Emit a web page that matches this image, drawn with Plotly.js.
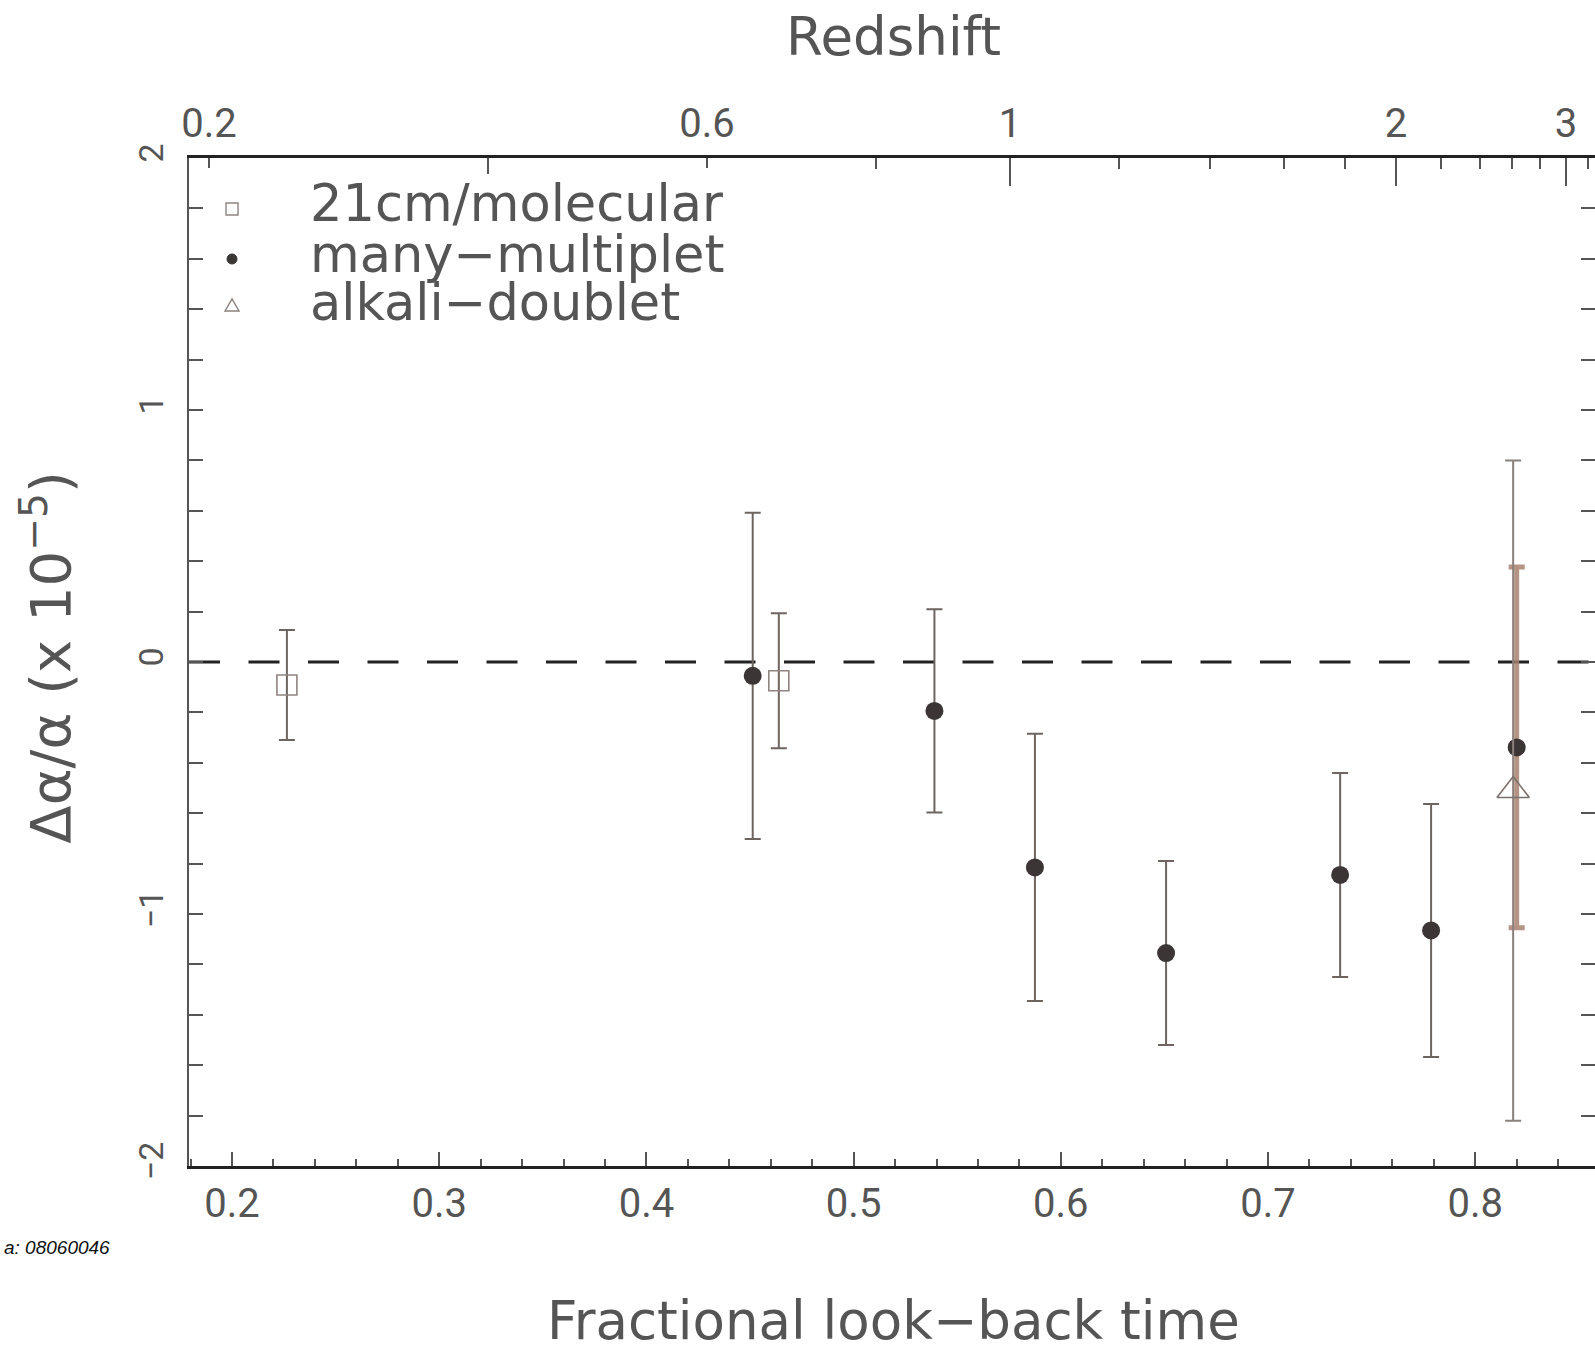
<!DOCTYPE html>
<html>
<head>
<meta charset="utf-8">
<script src="https://cdn.plot.ly/plotly-3.0.1.min.js"></script>
<style>
  html, body { margin: 0; padding: 0; background: #ffffff; }
  #chart { width: 1595px; height: 1352px; }
</style>
</head>
<body>
<div id="chart"></div>
<script>
// ---- data ----
// 21cm / molecular (open squares)
const lookback21cm = [0.2265, 0.4639];
const dAlpha21cm   = [-0.0915, -0.0745];
const err21cm      = [0.2185, 0.2675];

// many-multiplet (filled circles)
const lookbackMM = [0.4513, 0.5390, 0.5875, 0.6508, 0.7348, 0.7787, 0.8200];
const dAlphaMM   = [-0.055, -0.194, -0.815, -1.155, -0.845, -1.065, -0.339];
const errMM      = [0.647, 0.403, 0.530, 0.365, 0.405, 0.502, 0.716];

// alkali-doublet (open triangle)
const lookbackAD = [0.8183];
const dAlphaAD   = [-0.51];
const errAD      = [1.31];

// top axis: redshift ticks at their fractional look-back positions
const redshiftMajorLabels   = ['1', '2', '3'];
const redshiftMajorLookback = [0.5755, 0.7618, 0.8438];
const redshiftSmallLabels   = ['0.2', '0.6'];
const redshiftSmallLookback = [0.1889, 0.4292];
const redshiftMidLookback   = [0.3236];
const redshiftMinorLookback = [0.5108, 0.628, 0.672, 0.7077, 0.737, 0.7835, 0.8023, 0.8178, 0.8313, 0.8544];

// legend entries
const legendNames = ['21cm/molecular', 'many\u2212multiplet', 'alkali\u2212doublet'];

// ---- styling ----
const xRange = [0.17925, 0.8578];
const textColor = '#555555';
const barColor = '#6e6460';
const tickFont = {family: 'Roboto, DejaVu Sans, sans-serif', size: 40, color: textColor};
const labelFamily = 'DejaVu Sans, sans-serif';

const nMM = lookbackMM.length;

const traces = [
  {
    x: lookback21cm, y: dAlpha21cm, type: 'scatter', mode: 'markers', name: legendNames[0],
    marker: {symbol: 'square-open', size: 20, color: '#8f8480', line: {width: 1.6, color: '#8f8480'}},
    error_y: {type: 'data', array: err21cm, visible: true, color: barColor, thickness: 2, width: 8},
    showlegend: false, hoverinfo: 'x+y'
  },
  {
    x: lookbackMM.slice(0, nMM - 1), y: dAlphaMM.slice(0, nMM - 1), type: 'scatter', mode: 'markers', name: legendNames[1],
    marker: {symbol: 'circle', size: 18, color: '#3b3535'},
    error_y: {type: 'data', array: errMM.slice(0, nMM - 1), visible: true, color: barColor, thickness: 2, width: 8},
    showlegend: false, hoverinfo: 'x+y'
  },
  {
    x: lookbackMM.slice(nMM - 1), y: dAlphaMM.slice(nMM - 1), type: 'scatter', mode: 'markers', name: legendNames[1],
    marker: {symbol: 'circle', size: 18, color: '#3b3535'},
    error_y: {type: 'data', array: errMM.slice(nMM - 1), visible: true, color: 'rgba(168,128,112,0.85)', thickness: 5, width: 8},
    showlegend: false, hoverinfo: 'x+y'
  },
  {
    x: lookbackAD, y: dAlphaAD, type: 'scatter', mode: 'markers', name: legendNames[2],
    marker: {symbol: 'triangle-up-open', size: 28, color: '#7a706c', line: {width: 1.6, color: '#7a706c'}},
    error_y: {type: 'data', array: errAD, visible: true, color: '#8a807c', thickness: 2, width: 8},
    showlegend: false, hoverinfo: 'x+y'
  },
  // empty traces so that the top axes get their own subplots
  {x: [], y: [], type: 'scatter', mode: 'markers', xaxis: 'x2', yaxis: 'y', showlegend: false, hoverinfo: 'skip'},
  {x: [], y: [], type: 'scatter', mode: 'markers', xaxis: 'x3', yaxis: 'y', showlegend: false, hoverinfo: 'skip'}
];

// legend (drawn by hand to match the tight PGPLOT spacing)
const legendX = 0.0306;
const legendSymbolY = [0.9494, 0.8998, 0.8532];
const legendTextY = [0.9545, 0.9045, 0.8570];
const legendTextX = 0.0848;

const shapes = [
  {type: 'line', xref: 'paper', yref: 'y', x0: 0, x1: 1, y0: 0, y1: 0,
   line: {color: '#222222', width: 3, dash: '31px,28.5px'}, layer: 'below'},
  {type: 'rect', xref: 'paper', yref: 'paper', xsizemode: 'pixel', ysizemode: 'pixel',
   xanchor: legendX, yanchor: legendSymbolY[0], x0: -6, x1: 6, y0: -6, y1: 6,
   line: {color: '#8f8480', width: 1.4}},
  {type: 'circle', xref: 'paper', yref: 'paper', xsizemode: 'pixel', ysizemode: 'pixel',
   xanchor: legendX, yanchor: legendSymbolY[1], x0: -5, x1: 5, y0: -5, y1: 5,
   fillcolor: '#3b3535', line: {color: '#3b3535', width: 1}},
  {type: 'path', xref: 'paper', yref: 'paper', xsizemode: 'pixel', ysizemode: 'pixel',
   xanchor: legendX, yanchor: legendSymbolY[2], path: 'M -7 -5 L 7 -5 L 0 7 Z',
   line: {color: '#8a807c', width: 1.4}}
];

const annotations = legendNames.map((t, i) => ({
  text: t, xref: 'paper', yref: 'paper', x: legendTextX, y: legendTextY[i],
  xanchor: 'left', yanchor: 'middle', showarrow: false,
  font: {family: labelFamily, size: 51, color: textColor}
})).concat([
  {text: 'Redshift', xref: 'paper', yref: 'paper', x: 0.5014, y: 1.121, xanchor: 'center', yanchor: 'middle',
   showarrow: false, font: {family: labelFamily, size: 53, color: textColor}},
  {text: 'Fractional look\u2212back time', xref: 'paper', yref: 'paper', x: 0.5014, y: -0.1535,
   xanchor: 'center', yanchor: 'middle', showarrow: false, font: {family: labelFamily, size: 53, color: textColor}},
  {text: '\u0394\u03b1/\u03b1 (x 10<sup>\u22125</sup>)', xref: 'paper', yref: 'paper', x: -0.1005, y: 0.505,
   xanchor: 'center', yanchor: 'middle', textangle: -90, showarrow: false,
   font: {family: labelFamily, size: 56, color: textColor}},
  {text: '<i>a: 08060046</i>', xref: 'paper', yref: 'paper', x: -0.0548, y: -0.0804,
   xanchor: 'right', yanchor: 'middle', showarrow: false,
   font: {family: 'Liberation Sans, Arial, sans-serif', size: 19, color: '#111111'}}
]);

const layout = {
  width: 1595, height: 1352,
  margin: {l: 189, r: 0, t: 158, b: 186, pad: 0},
  paper_bgcolor: '#ffffff', plot_bgcolor: '#ffffff',
  showlegend: false,
  font: {family: labelFamily, color: textColor},
  xaxis: {
    range: xRange, tickmode: 'linear', tick0: 0.2, dtick: 0.1, tickformat: '.1f',
    ticks: 'inside', ticklen: 14, tickwidth: 2, tickcolor: '#555555',
    minor: {dtick: 0.02, tick0: 0.2, ticks: 'inside', ticklen: 7, tickwidth: 2, tickcolor: '#555555'},
    showline: true, linewidth: 3, linecolor: '#222222', mirror: false,
    showgrid: false, zeroline: false, tickfont: tickFont, ticklabelstandoff: 0
  },
  xaxis2: {
    overlaying: 'x', side: 'top', anchor: 'y', range: xRange,
    tickmode: 'array', tickvals: redshiftMajorLookback, ticktext: redshiftMajorLabels,
    ticks: 'inside', ticklen: 28, tickwidth: 2, tickcolor: '#555555',
    minor: {tickmode: 'array', tickvals: redshiftMinorLookback, ticks: 'inside', ticklen: 11, tickwidth: 2, tickcolor: '#555555'},
    showline: true, linewidth: 3, linecolor: '#222222',
    showgrid: false, zeroline: false, tickfont: tickFont, ticklabelstandoff: 2
  },
  xaxis3: {
    overlaying: 'x', side: 'top', anchor: 'y', range: xRange,
    tickmode: 'array', tickvals: redshiftSmallLookback, ticktext: redshiftSmallLabels,
    ticks: 'inside', ticklen: 10, tickwidth: 2, tickcolor: '#555555',
    minor: {tickmode: 'array', tickvals: redshiftMidLookback, ticks: 'inside', ticklen: 16, tickwidth: 2, tickcolor: '#555555'},
    showline: false, showgrid: false, zeroline: false, tickfont: tickFont, ticklabelstandoff: 12
  },
  yaxis: {
    range: [-2, 2], tickmode: 'linear', tick0: 0, dtick: 1,
    ticks: 'inside', ticklen: 14, tickwidth: 2, tickcolor: '#555555',
    minor: {dtick: 0.2, ticks: 'inside', ticklen: 11, tickwidth: 2, tickcolor: '#555555'},
    showline: true, linewidth: 2, linecolor: '#555555', mirror: 'allticks',
    showgrid: false, zeroline: false, tickangle: -90,
    tickfont: {family: 'Roboto, DejaVu Sans, sans-serif', size: 34, color: textColor},
    ticklabelstandoff: 10
  },
  shapes: shapes,
  annotations: annotations
};

Plotly.newPlot('chart', traces, layout, {staticPlot: true, displayModeBar: false});
</script>
</body>
</html>
